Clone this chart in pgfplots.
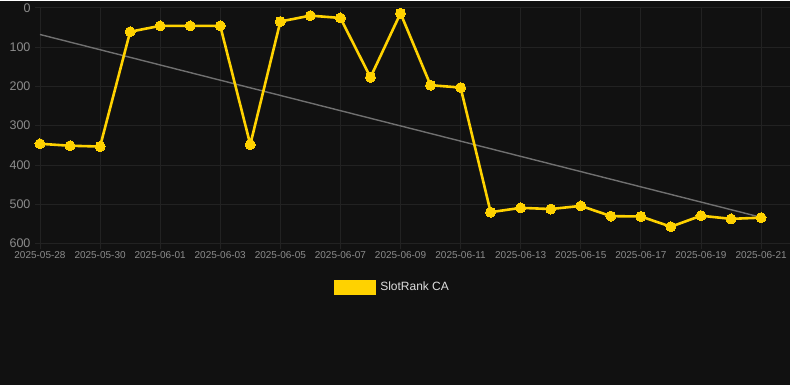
\documentclass[border=0pt]{standalone}
\usepackage{fontspec}
\setmainfont{Liberation Sans}
\usepackage{pgfplots}
\pgfplotsset{compat=1.18}
\definecolor{bg}{HTML}{111111}
\definecolor{gold}{HTML}{FFD200}
\definecolor{gridc}{HTML}{222222}
\definecolor{tickc}{HTML}{8C8C8C}
\definecolor{trend}{HTML}{707070}
\definecolor{legc}{HTML}{DDDDDD}
\begin{document}
\begin{tikzpicture}[x=1pt,y=1pt]
\fill[bg] (0,0) rectangle (790,384);
\begin{axis}[
  at={(40pt,141pt)}, anchor=south west,
  scale only axis, width=750pt, height=236pt,
  xmin=0, xmax=24.95, ymin=0, ymax=600, y dir=reverse,
  axis line style={draw=none},
  clip=false,
  grid=major, major grid style={draw=gridc, line width=0.8pt},
  xtick={0,2,...,24},
  xticklabels={2025-05-28,2025-05-30,2025-06-01,2025-06-03,2025-06-05,2025-06-07,2025-06-09,2025-06-11,2025-06-13,2025-06-15,2025-06-17,2025-06-19,2025-06-21},
  ytick={0,100,...,600},
  xtick pos=bottom, ytick pos=left,
  tick align=outside, major tick length=5pt,
  tick style={draw=gridc, line width=0.8pt},
  xticklabel style={font=\fontsize{10}{10}\selectfont, text=tickc, yshift=1pt},
  yticklabel style={font=\fontsize{12.5}{12.5}\selectfont, text=tickc, xshift=-1pt},
  /pgf/number format/assume math mode=true,
  legend style={at={(0.47,-0.185)}, anchor=center, draw=none, fill=none,
    text=legc, font=\fontsize{12}{12}\selectfont},
  legend image code/.code={\fill[gold] (0pt,-6pt) rectangle (40pt,6pt);},
]
\addplot[trend, line width=1.4pt, forget plot] coordinates {(0,68) (24,533)};
\addplot[gold, line width=2.6pt, mark=*, mark size=5pt, mark options={fill=gold, draw=gold, line width=0pt}] coordinates {
(0,346) (1,351) (2,353) (3,61) (4,46) (5,46) (6,46) (7,348) (8,35) (9,20)
(10,26) (11,177) (12,14) (13,197) (14,203) (15,520) (16,509) (17,512) (18,504)
(19,530) (20,531) (21,557) (22,529) (23,537) (24,534)
};
\addlegendentry{\hspace{2pt}SlotRank CA}
\end{axis}
\end{tikzpicture}
\end{document}
